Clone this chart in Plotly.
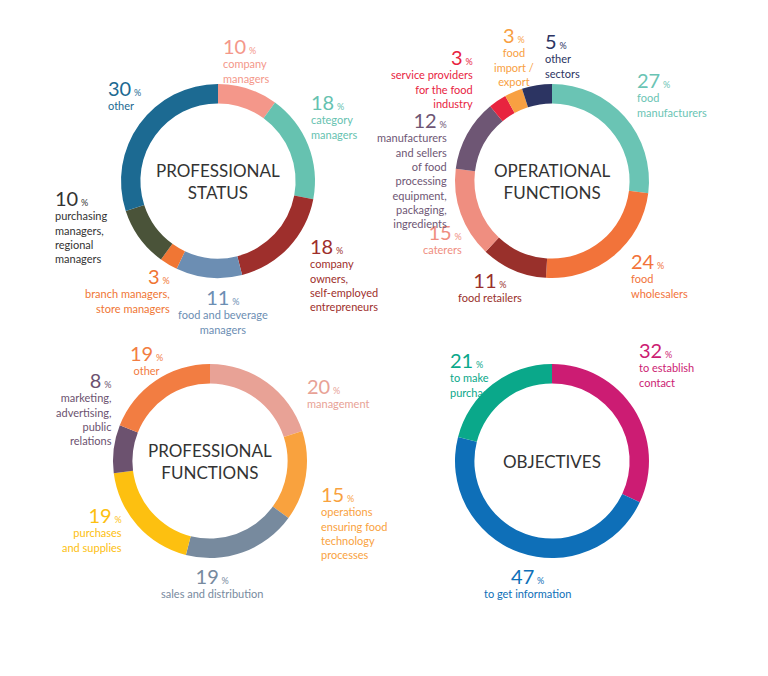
import plotly.graph_objects as go

W, H = 768, 676
DX, DY = -7, -10  # page offset correction

# professional status
ps_labels = ['company managers', 'category managers', 'company owners', 'food and beverage managers',
             'branch managers', 'purchasing managers', 'other']
ps_values = [10, 18, 18, 11, 3, 10, 30]
ps_colors = ['#F4978A', '#66C2B0', '#9E2F2C', '#6C8EB3', '#F07634', '#4A5339', '#1C6A92']

# operational functions
of_labels = ['food manufacturers', 'food wholesalers', 'food retailers', 'caterers',
             'manufacturers and sellers', 'service providers', 'food import / export', 'other sectors']
of_values = [27, 24, 11, 15, 12, 3, 3, 5]
of_colors = ['#6AC4B4', '#F2733A', '#99302B', '#EF8E80', '#6E5674', '#E8243F', '#F8A042', '#2C3462']

# professional functions
pf_labels = ['management', 'operations', 'sales and distribution', 'purchases and supplies',
             'marketing', 'other']
pf_values = [20, 15, 19, 19, 8, 19]
pf_colors = ['#E8A296', '#F9A23E', '#778A9E', '#FDC010', '#6C526F', '#F27D42']

# objectives
ob_labels = ['to establish contact', 'to get information', 'to make purchases']
ob_values = [32, 47, 21]
ob_colors = ['#CC1C73', '#0E6FB8', '#0AA88A']

FONT = 'Lato'


def domain(cx, cy, r=97):
    cx, cy = cx + DX, cy + DY
    return dict(x=[(cx - r) / W, (cx + r) / W], y=[1 - (cy + r) / H, 1 - (cy - r) / H])


fig = go.Figure()
for labels, values, colors, (cx, cy) in [
    (ps_labels, ps_values, ps_colors, (217, 183)),
    (of_labels, of_values, of_colors, (551, 183)),
    (pf_labels, pf_values, pf_colors, (209, 463)),
    (ob_labels, ob_values, ob_colors, (551, 463)),
]:
    fig.add_trace(go.Pie(labels=labels, values=values, hole=0.8, sort=False, direction='clockwise',
                         marker=dict(colors=colors, line=dict(width=0)), textinfo='none',
                         domain=domain(cx, cy), showlegend=False))

annotations = []


def lab(x, y, num, text, color, align='left'):
    t = f"<span style='font-size:20px'>{num}</span> <span style='font-size:9px'>%</span>"
    if text:
        t += "<br>" + text
    annotations.append(dict(x=(x + DX) / W, y=1 - (y + DY) / H, xref='paper', yref='paper', text=t,
                            showarrow=False, xanchor=align, yanchor='top', align=align,
                            font=dict(family=FONT, size=11, color=color)))


def title(cx, cy, text):
    annotations.append(dict(x=(cx + DX) / W, y=1 - (cy + DY) / H, xref='paper', yref='paper', text=text,
                            showarrow=False, xanchor='center', yanchor='middle',
                            font=dict(family=FONT, size=17, color='#333333')))


# pie 1
lab(220, 34, 10, 'company<br>managers', ps_colors[0])
lab(308, 90, 18, 'category<br>managers', ps_colors[1])
lab(307, 234, 18, 'company<br>owners,<br>self-employed<br>entrepreneurs', ps_colors[2])
lab(222, 285, 11, 'food and beverage<br>managers', ps_colors[3], 'center')
lab(171, 264, 3, 'branch managers,<br>store managers', ps_colors[4], 'right')
lab(52, 186, 10, 'purchasing<br>managers,<br>regional<br>managers', '#333333')
lab(105, 76, 30, 'other', ps_colors[6])
title(217, 183, 'PROFESSIONAL<br>STATUS')

# pie 2
lab(634, 68, 27, 'food<br>manufacturers', of_colors[0])
lab(628, 249, 24, 'food<br>wholesalers', of_colors[1])
lab(489, 268, 11, 'food retailers', of_colors[2], 'center')
lab(463, 220, 15, 'caterers', of_colors[3], 'right')
lab(448, 108, 12, 'manufacturers<br>and sellers<br>of food<br>processing<br>equipment,<br>packaging,<br>ingredients',
    of_colors[4], 'right')
lab(474, 45, 3, 'service providers<br>for the food<br>industry', of_colors[5], 'right')
lab(513, 23, 3, 'food<br>import /<br>export', of_colors[6], 'center')
lab(542, 29, 5, 'other<br>sectors', of_colors[7])
title(551, 183, 'OPERATIONAL<br>FUNCTIONS')

# pie 3
lab(304, 374, 20, 'management', pf_colors[0])
lab(318, 482, 15, 'operations<br>ensuring food<br>technology<br>processes', pf_colors[1])
lab(211, 564, 19, 'sales and distribution', pf_colors[2], 'center')
lab(123, 503, 19, 'purchases<br>and supplies', pf_colors[3], 'right')
lab(113, 368, 8, 'marketing,<br>advertising,<br>public<br>relations', pf_colors[4], 'right')
lab(145, 341, 19, 'other', pf_colors[5], 'center')
title(209, 463, 'PROFESSIONAL<br>FUNCTIONS')

# pie 4
lab(447, 348, 21, 'to make<br>purchases', ob_colors[2])
lab(636, 338, 32, 'to establish<br>contact', ob_colors[0])
lab(526, 564, 47, 'to get information', ob_colors[1], 'center')
title(551, 463, 'OBJECTIVES')

fig.update_layout(width=W, height=H, margin=dict(l=0, r=0, t=0, b=0),
                  paper_bgcolor='white', plot_bgcolor='white', annotations=annotations,
                  font=dict(family=FONT))

fig.write_html("out.html")
